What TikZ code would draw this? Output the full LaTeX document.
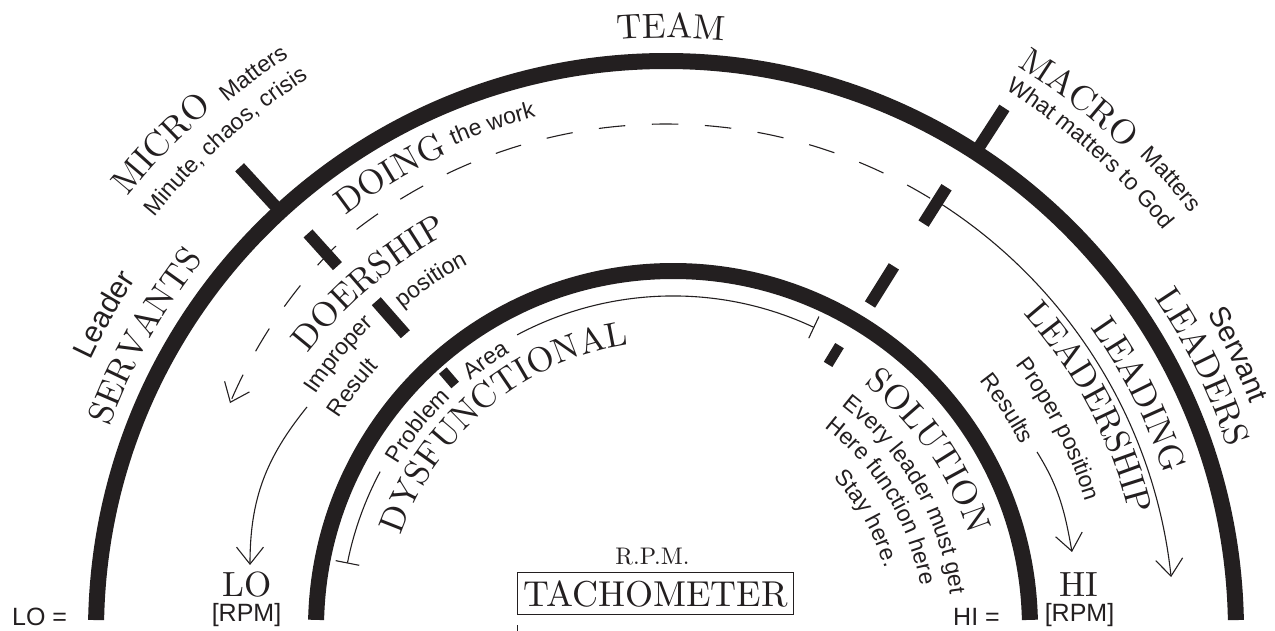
\documentclass[tikz,border=0pt]{standalone}
\usepackage{fontspec}
\newfontfamily\sansf{Liberation Sans}
\newfontfamily\serten{lmroman10-regular.otf}
\usetikzlibrary{decorations.text,arrows.meta}
\definecolor{ink}{HTML}{231F20}
\newcommand\SerB{\color{ink}\serten\fontsize{35}{40}\selectfont}
\newcommand\SerT{\color{ink}\serten\fontsize{36}{40}\selectfont}
\newcommand\SerM{\color{ink}\serten\fontsize{24}{28}\selectfont}
\newcommand\SanT{\color{ink}\sansf\fontsize{23}{27}\selectfont}
\newcommand\SanX{\color{ink}\sansf\fontsize{30}{34}\selectfont}
\newcommand\SanY{\color{ink}\sansf\fontsize{29}{33}\selectfont}
\newcommand\SanL{\color{ink}\sansf\fontsize{25}{29}\selectfont}
% text curved along a circle: #1 centre, #2 baseline radius, #3 middle angle, #4 font, #5 text
\newcommand\arctext[5]{%
  \path[decorate,decoration={text along path,text align=center,text={|#4|#5}}]
    (#1) ++(#3+60:#2) arc[start angle=#3+60,end angle=#3-60,radius=#2];}
\tikzset{
  thinl/.style={line width=1.1pt},
  barb/.style={-{Straight Barb[length=17pt,width=27pt]}},
  tickbar/.style={line width=12pt},
  smallbar/.style={line width=10pt},
  lbl/.style={inner sep=0pt,anchor=base,text=ink},
}
\begin{document}
\begin{tikzpicture}[x=1pt,y=1pt,color=ink,line cap=butt]
\useasboundingbox (0,0) rectangle (1275,631);
\fill[white] (0,0) rectangle (1275,631);
\coordinate (Co) at (666,0);
\coordinate (Ci) at (673,3);
% thick arcs
\draw[line width=16pt] (Co) ++(1.1:570) arc[start angle=1.1,end angle=178.9,radius=570];
\draw[line width=16pt] (Ci) ++(1.3:357) arc[start angle=1.3,end angle=178.7,radius=357];
% radial bars
\draw[tickbar] (Co) ++(132.6:570) -- ++(132.6:60);
\draw[tickbar] (Co) ++(57.1:570) -- ++(57.1:53);
\draw[tickbar] (Co) ++(132:491) -- ++(132:44);
\draw[tickbar] (Co) ++(131.3:395) -- ++(131.3:44);
\draw[smallbar] (Co) ++(130.6:324) -- ++(130.6:19);
\draw[tickbar] (Co) ++(57.7:482) -- ++(57.7:43);
\draw[tickbar] (Co) ++(58:385) -- ++(58:45);
\draw[smallbar] (Co) ++(58.7:312) -- ++(58.7:22);
% dashed arc (left) and solid arc (right)
\draw[thinl,barb,dash pattern=on 26.5pt off 26.6pt,dash phase=45.1pt]
  plot[domain=57.7:152.4,samples=150,variable=\t]
  ({666+(507-0.7*max(\t-131,0))*cos(\t)},{(507-0.7*max(\t-131,0))*sin(\t)});
\draw[thinl,barb] (Co) ++(57.7:508) arc[start angle=57.7,end angle=6.1,radius=508];
% dimension arc with end bars
\draw[thinl,-{Bar[width=24pt]}] (Ci) ++(151.9:332) arc[start angle=151.9,end angle=168.8,radius=332];
\draw[thinl,-{Bar[width=24pt]}] (Ci) ++(118:332) arc[start angle=118,end angle=64.8,radius=332];
% curved arrows
\coordinate (loFrom) at (307,224);
\coordinate (loTip) at (250,66);
\draw[thinl,barb] (loFrom) to[out=231,in=90] (loTip);
\coordinate (hiFrom) at (1037,179);
\coordinate (hiTip) at (1072,79);
\draw[thinl,barb] (hiFrom) to[out=-58,in=100] (hiTip);
% curved texts
\arctext{Co}{593}{89.5}{\SerB}{TEAM}
\arctext{Co}{692}{136}{\SerB}{MICRO}
\arctext{Co}{687}{126.5}{\SanT}{Matters}
\arctext{Co}{658}{132}{\SanT}{Minute, chaos, crisis}
\arctext{Co}{665}{52.2}{\SerB}{MACRO}
\arctext{Co}{671}{41.8}{\SanT}{Matters}
\arctext{Co}{639}{48.4}{\SanT}{What matters to God}
\arctext{Co}{593}{150.5}{\SerB}{SERVANTS}
\arctext{Co}{636}{150.6}{\SanX}{Leader}
\arctext{Co}{591}{26.2}{\SerB}{LEADERS}
\arctext{Co}{627}{25.8}{\SanY}{Servant}
\arctext{Co}{524.5}{121.1}{\SerB}{DOING}
\arctext{Co}{530}{108.9}{\SanT}{the work}
\arctext{Co}{453}{130.5}{\SerB}{DOERSHIP}
\arctext{Co}{423}{139.8}{\SanT}{Improper}
\arctext{Co}{390}{142.2}{\SanT}{Result}
\arctext{Co}{417}{123.8}{\SanT}{position}
\arctext{Co}{522}{26.5}{\SerB}{LEADING}
\arctext{Co}{478}{27.8}{\SerB}{LEADERSHIP}
\arctext{Co}{439}{27.2}{\SanT}{Proper position}
\arctext{Co}{401}{33.1}{\SanT}{Results}
\arctext{Ci}{287}{130}{\SerB}{DYSFUNCTIONAL}
\arctext{Ci}{320}{141.6}{\SanT}{Problem}
\arctext{Ci}{320}{125}{\SanT}{Area}
\arctext{Ci}{310}{34.7}{\SerB}{SOLUTION}
\arctext{Ci}{279}{29.85}{\SanT}{Every leader must get}
\arctext{Ci}{251}{31.3}{\SanT}{Here function here}
\arctext{Ci}{220}{29.4}{\SanT}{Stay here.}
% bottom labels
\node[lbl,font=\SerB] (lo) at (247,34) {LO};
\node[lbl,font=\SanL] (lorpm) at (246.5,9) {[RPM]};
\node[lbl,font=\SanL,anchor=base west] (loeq) at (12,5) {LO =};
\node[lbl,font=\SerB] (hi) at (1079,34) {HI};
\node[lbl,font=\SanL] (hirpm) at (1079.5,9) {[RPM]};
\node[lbl,font=\SanL,anchor=base west] (hieq) at (953,5) {HI =};
\node[lbl,font=\SerM] (rpm) at (652.5,66) {R.P.M.};
\node[lbl,font=\SerT,draw=ink,line width=1pt,inner xsep=6pt,inner ysep=8pt,text height=26pt,text depth=0pt] (tach) at (655.5,24) {TACHOMETER};
\draw[line width=1pt] (517,0) -- (517,6);
\end{tikzpicture}
\end{document}
